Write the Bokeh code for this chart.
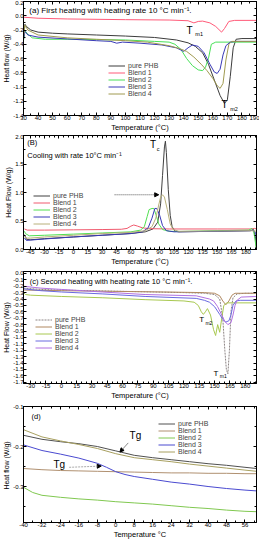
from bokeh.plotting import figure
from bokeh.models import (Range1d, FixedTicker, LinearAxis, PrintfTickFormatter,
                          Legend, LegendItem, Label, Arrow, NormalHead)
from bokeh.layouts import column
from bokeh.embed import file_html
from bokeh.resources import INLINE

FONT = "Liberation Sans"
NAMES = ["pure PHB", "Blend 1", "Blend 2", "Blend 3", "Blend 4"]

# ---------------- Panel (a): first heating ----------------
A_PHB_T = [30, 31, 32, 35, 40, 50, 60, 80, 100, 120, 135, 143, 148, 153, 157, 161, 165, 168, 170, 172, 174, 176, 180, 190]
A_PHB_Q = [-0.32, -0.12, -0.15, -0.20, -0.23, -0.245, -0.255, -0.27, -0.285, -0.305, -0.34, -0.38, -0.43, -0.52, -0.68, -0.9, -1.12, -1.23, -1.18, -0.85, -0.45, -0.33, -0.32, -0.32]
A_B1_T = [30, 40, 60, 100, 130, 143, 147, 150, 153, 158, 162, 166, 168, 171, 175, 190]
A_B1_Q = [-0.02, -0.035, -0.045, -0.055, -0.06, -0.07, -0.1, -0.08, -0.075, -0.1, -0.15, -0.23, -0.18, -0.08, -0.065, -0.065]
A_B2_T = [30, 31, 33, 36, 45, 60, 80, 100, 120, 130, 134, 138, 142, 146, 150, 153, 155, 157, 159, 162, 190]
A_B2_Q = [-0.35, -0.21, -0.26, -0.31, -0.33, -0.33, -0.335, -0.34, -0.36, -0.37, -0.4, -0.47, -0.6, -0.7, -0.76, -0.77, -0.72, -0.6, -0.4, -0.37, -0.37]
A_B3_T = [30, 31, 33, 40, 60, 80, 90, 94, 98, 110, 125, 135, 140, 143, 146, 150, 154, 158, 161, 163, 165, 167, 169, 172, 176, 190]
A_B3_Q = [-0.33, -0.22, -0.27, -0.3, -0.325, -0.35, -0.36, -0.385, -0.37, -0.385, -0.41, -0.45, -0.5, -0.45, -0.41, -0.43, -0.52, -0.68, -0.79, -0.81, -0.75, -0.55, -0.42, -0.37, -0.36, -0.36]
A_B4_T = [30, 31, 33, 40, 60, 80, 100, 115, 130, 137, 142, 147, 152, 156, 160, 163, 165, 167, 169, 171, 173, 190]
A_B4_Q = [-0.3, -0.13, -0.2, -0.27, -0.31, -0.33, -0.35, -0.37, -0.42, -0.46, -0.5, -0.58, -0.68, -0.77, -0.88, -0.98, -1.02, -0.95, -0.62, -0.4, -0.36, -0.36]
A_COLORS = ["#3c3c3c", "#ff5a78", "#48e058", "#3a3ab8", "#a09a50"]
A_XTICKS = list(range(30, 191, 10))
A_YTICKS = [0.2, 0.0, -0.2, -0.4, -0.6, -0.8, -1.0, -1.2, -1.4]

# ---------------- Panel (B): cooling ----------------
B_PHB_T = [-51, -49, -45, -30, 0, 30, 60, 75, 83, 88, 91, 93, 95, 96, 97, 99, 101, 103, 106, 110, 150, 185, 188, 190, 191]
B_PHB_Q = [0.26, 0.18, 0.17, 0.19, 0.22, 0.25, 0.28, 0.31, 0.36, 0.48, 0.8, 1.3, 1.8, 1.9, 1.7, 1.05, 0.6, 0.4, 0.32, 0.31, 0.32, 0.33, 0.35, 0.2, 0.0]
B_B1_T = [-51, -48, -30, 0, 30, 50, 56, 60, 63, 67, 72, 80, 100, 150, 185, 189, 191]
B_B1_Q = [0.36, 0.34, 0.34, 0.345, 0.35, 0.355, 0.37, 0.41, 0.43, 0.41, 0.38, 0.365, 0.36, 0.36, 0.36, 0.37, 0.36]
B_B2_T = [-51, -50, -46, -30, 0, 30, 60, 70, 74, 77, 79, 82, 84, 86, 89, 93, 100, 110, 150, 183, 186, 188, 191]
B_B2_Q = [0.32, 0.28, 0.24, 0.25, 0.27, 0.29, 0.31, 0.34, 0.4, 0.58, 0.7, 0.72, 0.72, 0.62, 0.45, 0.35, 0.32, 0.315, 0.33, 0.34, 0.37, 0.33, 0.0]
B_B3_T = [-51, -49, -45, -30, 0, 30, 60, 72, 78, 82, 85, 87, 90, 93, 97, 105, 150, 184, 187, 190, 191]
B_B3_Q = [0.2, 0.16, 0.165, 0.185, 0.22, 0.25, 0.28, 0.31, 0.38, 0.55, 0.72, 0.72, 0.6, 0.42, 0.33, 0.31, 0.32, 0.33, 0.34, 0.3, 0.18]
B_B4_T = [-51, -48, -45, -30, 0, 30, 60, 75, 82, 86, 89, 91, 93, 95, 98, 101, 104, 110, 150, 185, 191]
B_B4_Q = [0.22, 0.2, 0.2, 0.22, 0.25, 0.28, 0.3, 0.33, 0.4, 0.55, 0.78, 0.92, 0.96, 0.92, 0.7, 0.45, 0.35, 0.32, 0.325, 0.33, 0.32]
B_COLORS = ["#404040", "#f05a6e", "#50e050", "#3838b8", "#b8b07a"]
B_XTICKS = list(range(-45, 181, 15))
B_YTICKS = [0.0, 0.5, 1.0, 1.5, 2.0]

# ---------------- Panel (c): second heating ----------------
C_PHB_T = [-37, -20, 0, 30, 60, 90, 120, 140, 150, 155, 158, 160, 161.5, 163, 164.5, 166, 168, 172, 180, 191]
C_PHB_Q = [-0.23, -0.25, -0.26, -0.27, -0.28, -0.29, -0.3, -0.31, -0.33, -0.4, -0.7, -1.2, -1.5, -1.57, -1.2, -0.6, -0.38, -0.32, -0.31, -0.31]
C_B1_T = [-37, 0, 50, 100, 140, 150, 155, 158, 161, 164, 167, 170, 175, 191]
C_B1_Q = [-0.26, -0.27, -0.28, -0.29, -0.3, -0.31, -0.35, -0.43, -0.49, -0.43, -0.34, -0.31, -0.31, -0.31]
C_B2_T = [-37, -35, -30, 0, 40, 82, 120, 130, 134, 137, 139, 141, 143, 146, 149, 151, 153, 155, 157, 159, 162, 170, 191]
C_B2_Q = [-0.3, -0.33, -0.34, -0.36, -0.38, -0.41, -0.43, -0.45, -0.5, -0.6, -0.64, -0.6, -0.55, -0.65, -0.88, -0.97, -0.8, -0.92, -0.7, -0.5, -0.46, -0.46, -0.46]
C_B3_T = [-37, -20, 0, 40, 82, 132, 140, 145, 150, 155, 158, 161, 164, 166, 168, 171, 175, 191]
C_B3_Q = [-0.24, -0.27, -0.29, -0.32, -0.36, -0.39, -0.42, -0.45, -0.52, -0.64, -0.72, -0.76, -0.74, -0.65, -0.5, -0.43, -0.42, -0.42]
C_B4_T = [-37, -20, 0, 40, 82, 132, 145, 149, 153, 157, 160, 163, 166, 168, 170, 172, 176, 191]
C_B4_Q = [-0.2, -0.23, -0.25, -0.29, -0.33, -0.35, -0.4, -0.43, -0.52, -0.65, -0.75, -0.8, -0.77, -0.65, -0.5, -0.42, -0.37, -0.36]
C_COLORS = ["#8c8484", "#b08860", "#a8c850", "#6a6ae0", "#b070e0"]
C_XTICKS = list(range(-30, 181, 15))
C_YTICKS = [round(-0.1 * i, 1) for i in range(0, 18)]

# ---------------- Panel (d): glass transition ----------------
D_PHB_T = [-40, -32, -24, -16, -8, 0, 8, 16, 24, 32, 40, 48, 56, 61]
D_PHB_Q = [-0.172, -0.182, -0.188, -0.193, -0.2, -0.211, -0.222, -0.228, -0.233, -0.238, -0.243, -0.247, -0.252, -0.255]
D_B1_T = [-40, -32, -24, -16, -8, 0, 8, 16, 24, 32, 40, 48, 56, 61]
D_B1_Q = [-0.255, -0.258, -0.26, -0.261, -0.262, -0.263, -0.264, -0.265, -0.266, -0.266, -0.267, -0.267, -0.268, -0.268]
D_B2_T = [-40, -36, -32, -24, -16, -8, 0, 8, 16, 24, 32, 40, 48, 56, 61]
D_B2_Q = [-0.302, -0.315, -0.322, -0.327, -0.331, -0.334, -0.338, -0.341, -0.344, -0.348, -0.352, -0.355, -0.359, -0.362, -0.363]
D_B3_T = [-40, -32, -24, -16, -8, -4, 0, 4, 8, 16, 24, 32, 40, 48, 56, 61]
D_B3_Q = [-0.196, -0.21, -0.219, -0.229, -0.242, -0.252, -0.263, -0.27, -0.275, -0.282, -0.289, -0.294, -0.3, -0.305, -0.309, -0.311]
D_B4_T = [-40, -32, -24, -16, -8, 0, 8, 16, 24, 32, 40, 48, 56, 61]
D_B4_Q = [-0.158, -0.176, -0.186, -0.195, -0.205, -0.218, -0.228, -0.233, -0.238, -0.244, -0.249, -0.254, -0.259, -0.262]
D_COLORS = ["#505050", "#b09070", "#80c850", "#4a4ad0", "#a8a060"]
D_XTICKS = list(range(-40, 57, 8))
D_YTICKS = [-0.1, -0.2, -0.3]


def style_axis(ax, ticks, minor, fmt, label, show, lab_size="7px"):
    ax.ticker = FixedTicker(ticks=ticks, minor_ticks=minor)
    ax.axis_line_color = "black"
    ax.major_tick_line_color = "black"
    ax.minor_tick_line_color = "black"
    ax.major_tick_in = 3
    ax.major_tick_out = 0
    ax.minor_tick_in = 2
    ax.minor_tick_out = 0
    ax.major_label_text_font = FONT
    ax.major_label_text_color = "black"
    if show:
        ax.major_label_text_font_size = "6px"
        ax.major_label_standoff = 0
        if fmt:
            ax.formatter = PrintfTickFormatter(format=fmt)
        ax.axis_label = label
        ax.axis_label_text_font = FONT
        ax.axis_label_text_font_style = "normal"
        ax.axis_label_text_font_size = lab_size
        ax.axis_label_text_color = "black"
        ax.axis_label_standoff = 0
    else:
        ax.major_label_text_font_size = "0px"
        ax.major_label_standoff = 0
        ax.major_label_overrides = {t: "" for t in ticks}


def panel(h, xr, yr, top, xt, xminor, yt, yminor, yfmt, ylab, xlab):
    p = figure(width=259, height=h, x_range=Range1d(*xr), y_range=Range1d(*yr),
               output_backend="svg", toolbar_location=None,
               min_border_left=20, min_border_right=3, min_border_top=top,
               min_border_bottom=14)
    p.grid.visible = False
    p.outline_line_color = "black"
    style_axis(p.xaxis[0], xt, xminor, "%d", xlab, True, "7.5px")
    style_axis(p.yaxis[0], yt, yminor, yfmt, ylab, True)
    r = LinearAxis()
    style_axis(r, yt, yminor, None, None, False)
    p.add_layout(r, "right")
    a = LinearAxis()
    style_axis(a, xt, xminor, None, None, False)
    p.add_layout(a, "above")
    return p


def add_lines(p, series, colors, loc, dashes=None):
    items = []
    for i, (t, q) in enumerate(series):
        dash = dashes[i] if dashes else "solid"
        rr = p.line(t, q, line_color=colors[i], line_width=1.0, line_dash=dash)
        items.append(LegendItem(label=NAMES[i], renderers=[rr]))
    lg = Legend(items=items, location=loc, label_text_font=FONT,
                label_text_font_size="7px", glyph_width=17, glyph_height=7,
                label_height=7, label_standoff=3, spacing=0, padding=0,
                margin=0, border_line_alpha=0, background_fill_alpha=0,
                label_text_line_height=1.0)
    p.add_layout(lg)


def txt(p, x, y, s, size, base="middle"):
    p.add_layout(Label(x=x, y=y, text=s, text_font=FONT, text_font_size=size,
                       text_baseline=base, text_color="black"))


# Panel a
pa = panel(134, (30, 190), (-1.4, 0.2), 1, A_XTICKS, list(range(30, 191, 5)),
           A_YTICKS, [round(0.2 - 0.1 * i, 2) for i in range(17)], "%.1f",
           "Heat flow (W/g)", "Temperature (\u00b0C)")
add_lines(pa, [(A_PHB_T, A_PHB_Q), (A_B1_T, A_B1_Q), (A_B2_T, A_B2_Q),
               (A_B3_T, A_B3_Q), (A_B4_T, A_B4_Q)], A_COLORS, (85, 18))
txt(pa, 34, 0.08, "(a)  First heating with heating rate 10 \u00b0C min\u207b\u00b9.", "8px")
txt(pa, 142, -0.2, "T", "10px")
txt(pa, 148, -0.26, "m1", "5.5px")
txt(pa, 166, -1.25, "T", "10px")
txt(pa, 172, -1.31, "m2", "5.5px")

# Panel b
pb = panel(134, (-52, 191), (0.0, 2.0), 1, B_XTICKS, list(range(-45, 191, 5)),
           B_YTICKS, [0.25 * i for i in range(9)], "%.1f",
           "Heat Flow (W/g)", "Temperature (\u00b0C)")
add_lines(pb, [(B_PHB_T, B_PHB_Q), (B_B1_T, B_B1_Q), (B_B2_T, B_B2_Q),
               (B_B3_T, B_B3_Q), (B_B4_T, B_B4_Q)], B_COLORS, (10, 22))
txt(pb, -48, 1.87, "(B)", "7.5px")
txt(pb, -48, 1.65, "Cooling with rate 10\u00b0C min\u207b\u00b9", "7.5px")
txt(pb, 80, 1.85, "T", "10px")
txt(pb, 87, 1.76, "c", "5.5px")
pb.add_layout(Arrow(end=NormalHead(size=4, fill_color="black", line_color="black"),
                    x_start=43, y_start=0.96, x_end=89, y_end=0.96,
                    line_color="#555555", line_dash="1 1", line_width=1))

# Panel c
pc = panel(134, (-37, 191), (-1.72, 0.03), 3, C_XTICKS, list(range(-30, 191, 5)),
           C_YTICKS, [], "%.1f", "Heat Flow (W/g)", "Temperature (\u00b0C)")
add_lines(pc, [(C_PHB_T, C_PHB_Q), (C_B1_T, C_B1_Q), (C_B2_T, C_B2_Q),
               (C_B3_T, C_B3_Q), (C_B4_T, C_B4_Q)], C_COLORS, (12, 32),
          dashes=["2 1", "solid", "solid", "solid", "solid"])
txt(pc, -31, -0.13, "(c) Second heating with heating rate 10 \u00b0C min\u207b\u00b9.", "7.5px")
txt(pc, 135, -0.72, "T", "8px")
txt(pc, 141, -0.77, "m2", "5px")
txt(pc, 149, -1.56, "T", "8px")
txt(pc, 155, -1.61, "m1", "5px")

# Panel d
pd_ = panel(139, (-40, 61), (-0.39, -0.1), 4, D_XTICKS, list(range(-40, 61, 4)),
            D_YTICKS, [round(-0.1 - 0.05 * i, 2) for i in range(6)], "%.1f",
            "Heat  flow (W/g)", "Temperature \u00b0C")
add_lines(pd_, [(D_PHB_T, D_PHB_Q), (D_B1_T, D_B1_Q), (D_B2_T, D_B2_Q),
                (D_B3_T, D_B3_Q), (D_B4_T, D_B4_Q)], D_COLORS, (135, 67))
txt(pd_, -36.5, -0.124, "(d)", "7.5px")
txt(pd_, 6, -0.172, "Tg", "10px")
txt(pd_, -27, -0.245, "Tg", "10px")
pd_.add_layout(Arrow(end=NormalHead(size=4, fill_color="black", line_color="black"),
                     x_start=5.4, y_start=-0.191, x_end=1.8, y_end=-0.214,
                     line_color="#888888", line_width=1))
pd_.add_layout(Arrow(end=NormalHead(size=4, fill_color="black", line_color="black"),
                     x_start=-20.2, y_start=-0.252, x_end=-6.3, y_end=-0.249,
                     line_color="#aaaaaa", line_dash="2 1", line_width=1))

layout = column(pa, pb, pc, pd_, spacing=0)
open("out.html", "w").write(file_html(layout, INLINE))
